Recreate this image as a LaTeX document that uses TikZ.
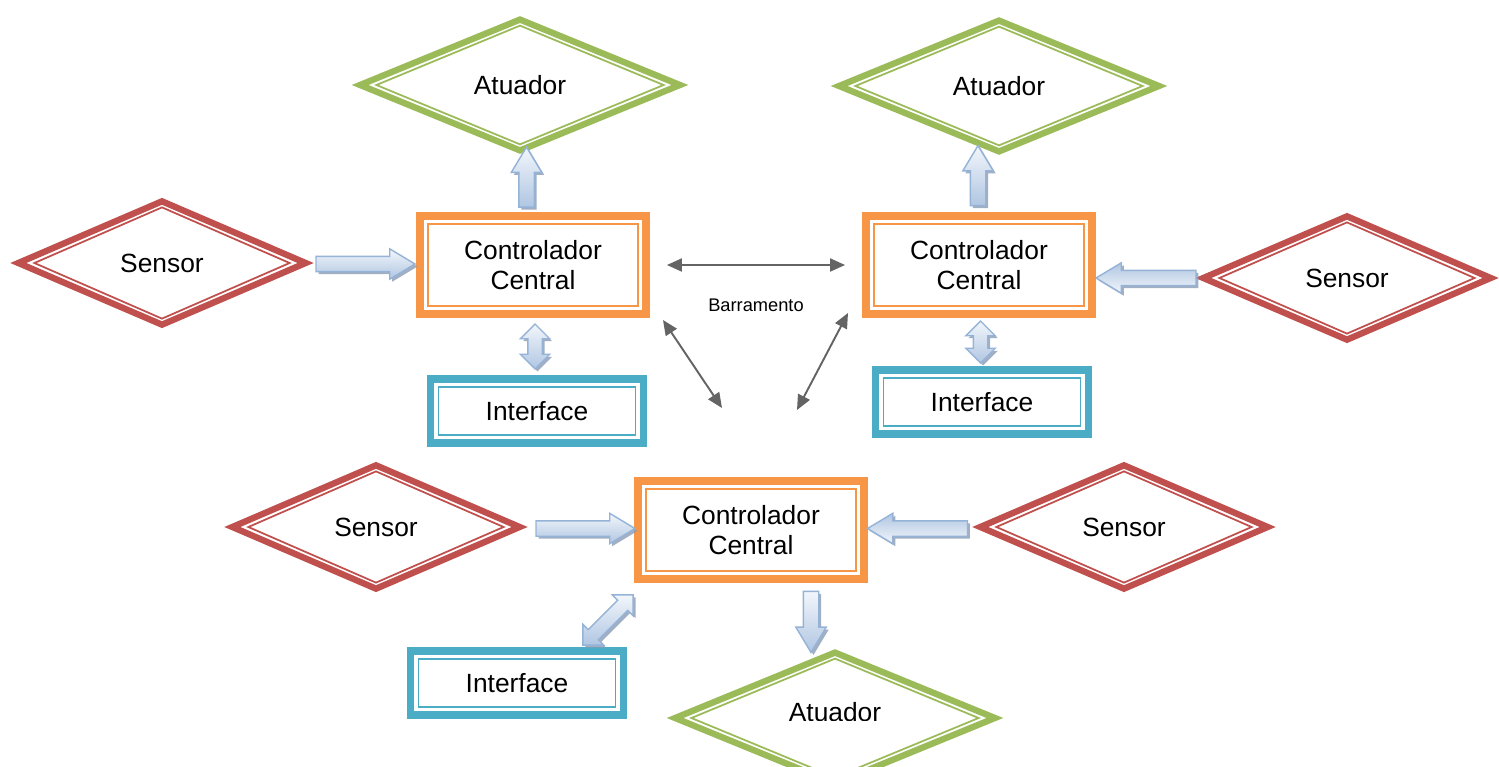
\documentclass[tikz,border=0pt]{standalone}
\usepackage{fontspec}
\setmainfont{Liberation Sans}
\usetikzlibrary{calc,shapes.geometric,shapes.arrows,shadows,arrows.meta}

\definecolor{sensred}{HTML}{C0504D}
\definecolor{atugreen}{HTML}{9BBB59}
\definecolor{ctrlorange}{HTML}{F79646}
\definecolor{ifteal}{HTML}{4BACC6}
\definecolor{blkborder}{HTML}{95B3D7}
\definecolor{blktop}{HTML}{F2F6FB}
\definecolor{blkbot}{HTML}{B0C6E2}
\definecolor{blkshadow}{HTML}{8A9BB5}
\definecolor{busgray}{HTML}{646464}

\tikzset{
	txt/.style={font=\fontsize{15}{17}\selectfont, align=center, text=black},
	sensorout/.style={diamond, draw=sensred, line width=3.6pt, minimum width=5.8cm, minimum height=2.52cm, inner sep=0pt},
	sensorin/.style={diamond, draw=sensred, line width=1pt, minimum width=5.12cm, minimum height=2.24cm, inner sep=0pt, txt},
	atuout/.style={diamond, draw=atugreen, line width=3.6pt, minimum width=6.45cm, minimum height=2.67cm, inner sep=0pt},
	atuin/.style={diamond, draw=atugreen, line width=1pt, minimum width=5.76cm, minimum height=2.39cm, inner sep=0pt, txt},
	ctrlout/.style={rectangle, draw=ctrlorange, line width=4.5pt, minimum width=4.52cm, minimum height=1.96cm},
	ctrlin/.style={rectangle, draw=ctrlorange, line width=1.1pt, minimum width=4.2cm, minimum height=1.64cm, inner sep=0pt, txt},
	ifout/.style={rectangle, draw=ifteal, line width=4.5pt, minimum width=4.26cm, minimum height=1.28cm},
	ifin/.style={rectangle, draw=ifteal, line width=1.1pt, minimum width=3.94cm, minimum height=0.96cm, inner sep=0pt, txt},
	seta/.style={single arrow, draw=blkborder, line width=0.8pt, top color=blktop, bottom color=blkbot, inner xsep=0pt, inner ysep=0.14cm, single arrow head extend=0.15cm, single arrow tip angle=62, drop shadow={shadow xshift=0.05cm, shadow yshift=-0.05cm, fill=blkshadow, opacity=0.8}},
	setaesq/.style={seta, rotate=180, top color=blkbot, bottom color=blktop},
	setadupla/.style={double arrow, draw=blkborder, line width=0.8pt, top color=blktop, bottom color=blkbot, inner xsep=0pt, inner ysep=0.13cm, double arrow head extend=0.15cm, double arrow tip angle=90, drop shadow={shadow xshift=0.05cm, shadow yshift=-0.05cm, fill=blkshadow, opacity=0.8}},
	barra/.style={{Triangle[length=3mm,width=2.6mm]}-{Triangle[length=3mm,width=2.6mm]}, draw=busgray, line width=1.1pt},
}

\begin{document}
\begin{tikzpicture}[x=0.02cm, y=-0.02cm]
			%%%%% START %%%%%
			\useasboundingbox (0,0) rectangle (1499,767);
			
			% top left
			\node[atuout] (aTL) at (520,85) {};
			\node[atuin] (aTLi) at (aTL.center) {Atuador};
			\node[ctrlout] (cTL) at (533,265) {};
			\node[ctrlin] (cTLi) at (cTL.center) {Controlador\\Central};
			\node[sensorout] (sTL) at (162,263) {};
			\node[sensorin] (sTLi) at (sTL.center) {Sensor};
			\node[ifout] (iTL) at (537,411) {};
			\node[ifin] (iTLi) at (iTL.center) {Interface};
			
			\node[seta, minimum height=1.98cm] (sTLcTL) at ($(sTL.east)!.5!(cTL.west)+(-4,0)$) {};
			\node[seta, minimum height=1.2cm, rotate=90] (cTLaTL) at ($(cTL.north)!.5!(aTL.south)$) {};
			\node[setadupla, minimum height=0.9cm, rotate=90] (cTLiTL) at ($(cTL.south)!.5!(iTL.north)$) {};
			
			% top right
			\node[atuout] (aTR) at (999,86) {};
			\node[atuin] (aTRi) at (aTR.center) {Atuador};
			\node[ctrlout] (cTR) at (979,265) {};
			\node[ctrlin] (cTRi) at (cTR.center) {Controlador\\Central};
			\node[sensorout] (sTR) at (1347,278) {};
			\node[sensorin] (sTRi) at (sTR.center) {Sensor};
			\node[ifout] (iTR) at (982,402) {};
			\node[ifin] (iTRi) at (iTR.center) {Interface};
			
			\node[setaesq, minimum height=2cm] (sTRcTR) at ($(sTR.west)!.5!(cTR.east |- sTR.west)+(5,0)$) {};
			\node[seta, minimum height=1.2cm, rotate=90] (cTRaTR) at ($(cTR.north)!.5!(aTR.south)+(-11,-2)$) {};
			\node[setadupla, minimum height=0.84cm, rotate=90] (cTRiTR) at ($(cTR.south)!.5!(iTR.north)$) {};
			
			% bottom
			\node[ctrlout] (cB) at (751,530) {};
			\node[ctrlin] (cBi) at (cB.center) {Controlador\\Central};
			\node[sensorout] (sBL) at (376,527) {};
			\node[sensorin] (sBLi) at (sBL.center) {Sensor};
			\node[sensorout] (sBR) at (1124,527) {};
			\node[sensorin] (sBRi) at (sBR.center) {Sensor};
			\node[ifout] (iB) at (517,683) {};
			\node[ifin] (iBi) at (iB.center) {Interface};
			\node[atuout] (aB) at (835,718) {};
			\node[atuin] (aBi) at (aB.center) {};
			\begin{scope}
				\clip (0,0) rectangle (1499,720);
				\node[txt] (aBt) at (835,712) {Atuador};
			\end{scope}
			
			\node[seta, minimum height=1.98cm] (sBLcB) at ($(sBL.east)!.5!(cB.west)$) {};
			\node[setaesq, minimum height=2cm] (sBRcB) at ($(sBR.west)!.5!(cB.east)+(2,0)$) {};
			\node[seta, minimum height=1.22cm, rotate=-90] (cBaB) at ($(cB.south)!.5!(aB.north)+(18,0)$) {};
			\node[setadupla, minimum height=1.42cm, rotate=45] (cBiB) at (608,620) {};
			
			% barramento
			\coordinate (hubL) at (722,408);
			\coordinate (hubR) at (797,410);
			\coordinate (busTL) at (663,320);
			\coordinate (busTR) at (848,313);
			\draw[barra, shorten <=0.34cm, shorten >=0.34cm] (cTL.east) -- (cTR.west);
			\draw[barra] (busTL) -- (hubL);
			\draw[barra] (busTR) -- (hubR);
			\node[font=\fontsize{10.4}{12}\selectfont] (barr) at (756,305) {Barramento};
			
			%%%%% END %%%%%
\end{tikzpicture}
\end{document}
